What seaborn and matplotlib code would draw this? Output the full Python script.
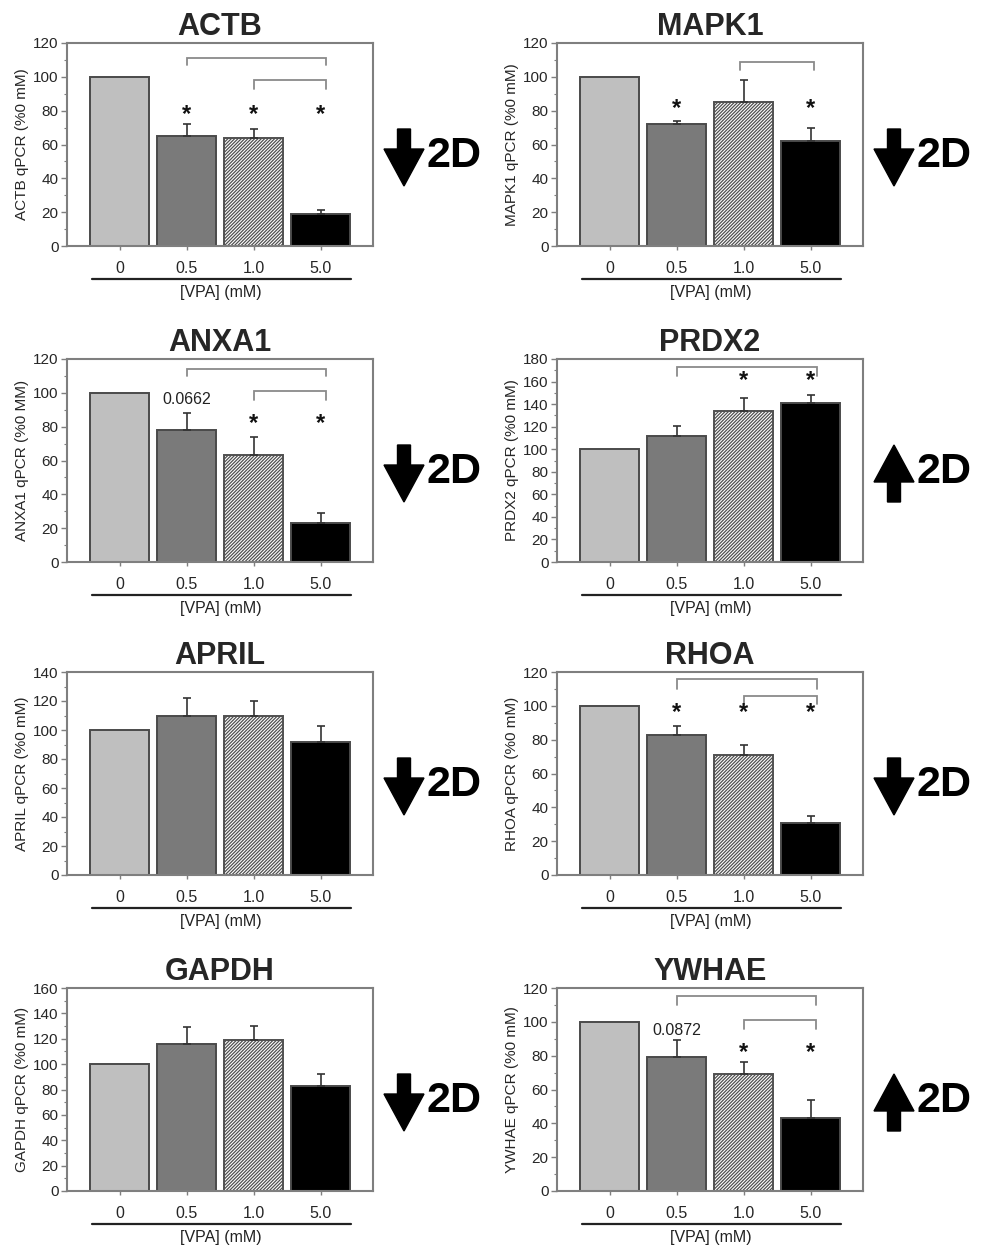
import numpy as np
import pandas as pd
import matplotlib
matplotlib.use("Agg")
import matplotlib.pyplot as plt
import matplotlib.transforms as mtransforms
from matplotlib.patches import FancyArrow
import seaborn as sns

# ---------------- data ----------------
doses = ["0", "0.5", "1.0", "5.0"]

actb_mean = [100, 65, 64, 19]
actb_err = [0, 7, 5, 2]
mapk1_mean = [100, 72, 85, 62]
mapk1_err = [0, 2, 13, 8]
anxa1_mean = [100, 78, 63, 23]
anxa1_err = [0, 10, 11, 6]
prdx2_mean = [100, 112, 134, 141]
prdx2_err = [0, 9, 11, 7]
april_mean = [100, 110, 110, 92]
april_err = [0, 12, 10, 11]
rhoa_mean = [100, 83, 71, 31]
rhoa_err = [0, 5, 6, 4]
gapdh_mean = [100, 116, 119, 83]
gapdh_err = [0, 13, 11, 9]
ywhae_mean = [100, 79, 69, 43]
ywhae_err = [0, 10, 7, 11]

genes = ["ACTB", "MAPK1", "ANXA1", "PRDX2", "APRIL", "RHOA", "GAPDH", "YWHAE"]
ylabels = ["ACTB qPCR (%0 mM)", "MAPK1 qPCR (%0 mM)", "ANXA1 qPCR (%0 MM)",
           "PRDX2 qPCR (%0 mM)", "APRIL qPCR (%0 mM)", "RHOA qPCR (%0 mM)",
           "GAPDH qPCR (%0 mM)", "YWHAE qPCR (%0 mM)"]
ymaxs = [120, 120, 120, 180, 140, 120, 160, 120]
directions = ["down", "down", "down", "up", "down", "down", "down", "up"]

# significance stars: (bar index, y)
actb_stars = [(1, 78), (2, 78), (3, 78)]
mapk1_stars = [(1, 81), (3, 81)]
anxa1_stars = [(2, 82), (3, 82)]
prdx2_stars = [(2, 161), (3, 161)]
april_stars = []
rhoa_stars = [(1, 96), (2, 96), (3, 96)]
gapdh_stars = []
ywhae_stars = [(2, 82), (3, 82)]

# brackets: (x1, x2, y, tip length)
actb_brackets = [(1, 3.08, 111, 4), (2, 3.08, 98, 5)]
mapk1_brackets = [(1.95, 3.05, 109, 5)]
anxa1_brackets = [(1, 3.08, 114, 4), (2, 3.08, 101, 5)]
prdx2_brackets = [(1, 3.1, 173, 8)]
april_brackets = []
rhoa_brackets = [(1, 3.1, 116, 6), (2, 3.1, 106, 5)]
gapdh_brackets = []
ywhae_brackets = [(1, 3.08, 115, 5), (2, 3.08, 101, 5)]

# p-value labels: (x, y, text)
anxa1_ptext = [(1, 96, "0.0662")]
ywhae_ptext = [(1, 95, "0.0872")]

means = [actb_mean, mapk1_mean, anxa1_mean, prdx2_mean, april_mean, rhoa_mean, gapdh_mean, ywhae_mean]
errs = [actb_err, mapk1_err, anxa1_err, prdx2_err, april_err, rhoa_err, gapdh_err, ywhae_err]
stars = [actb_stars, mapk1_stars, anxa1_stars, prdx2_stars, april_stars, rhoa_stars, gapdh_stars, ywhae_stars]
brackets = [actb_brackets, mapk1_brackets, anxa1_brackets, prdx2_brackets, april_brackets,
            rhoa_brackets, gapdh_brackets, ywhae_brackets]
ptexts = [[], [], anxa1_ptext, [], [], [], [], ywhae_ptext]

bar_colors = ["#bfbfbf", "#7a7a7a", "#ffffff", "#000000"]

# ---------------- style ----------------
sns.set_theme(style="white")
plt.rcParams["font.family"] = ["Liberation Sans", "DejaVu Sans"]
plt.rcParams["hatch.linewidth"] = 0.9

W, H = 984, 1253
fig = plt.figure(figsize=(W / 100, H / 100), dpi=100)
fig.patch.set_facecolor("white")
pix = mtransforms.Affine2D().scale(1 / W, 1 / H) + fig.transFigure

col_left = [67, 557]
ax_w = 306
row_top = [43, 359, 672, 988]
ax_h = 203

spine_c = "#7f7f7f"

for i, gene in enumerate(genes):
    r, c = divmod(i, 2)
    left = col_left[c]
    top = row_top[r]
    ax = fig.add_axes([left / W, (H - top - ax_h) / H, ax_w / W, ax_h / H])

    df = pd.DataFrame({"dose": doses, "value": means[i]})
    sns.barplot(data=df, x="dose", y="value", hue="dose", palette=bar_colors,
                legend=False, width=0.88, saturation=1, edgecolor="#4a4a4a",
                linewidth=1.4, ax=ax)
    hatched = ax.patches[2]
    hatched.set_hatch("//////////")
    hatched.set_facecolor("white")
    hatched.set_edgecolor("#505050")

    e = np.array(errs[i])
    m = np.array(means[i])
    idx = np.where(e > 0)[0]
    ax.errorbar(idx, m[idx], yerr=[np.zeros(len(idx)), e[idx]], fmt="none",
                ecolor="#333333", elinewidth=1.2, capsize=3, capthick=1.2, zorder=3)

    ymax = ymaxs[i]
    ax.set_ylim(0, ymax)
    ax.set_xlim(-0.79, 3.78)
    ax.set_yticks(np.arange(0, ymax + 1, 20))
    ax.set_yticks(np.arange(10, ymax, 20), minor=True)
    ax.tick_params(axis="y", which="major", direction="out", length=4, width=1,
                   color=spine_c, labelsize=11, pad=2, left=True)
    ax.tick_params(axis="y", which="minor", direction="out", length=2.5, width=0.8,
                   color=spine_c, left=True)
    ax.tick_params(axis="x", direction="out", length=3, width=1, color=spine_c,
                   labelsize=11.5, pad=8, bottom=True)
    for s in ax.spines.values():
        s.set_visible(True)
        s.set_color(spine_c)
        s.set_linewidth(1.5)
    ax.set_xlabel("")
    ax.set_ylabel(ylabels[i], fontsize=11, labelpad=3)
    ax.set_title(gene, fontsize=22, fontweight="bold", pad=6)

    # brackets
    for (x1, x2, y, tip) in brackets[i]:
        ax.plot([x1, x1, x2, x2], [y - tip, y, y, y - tip], color="#8a8a8a",
                lw=1.3, solid_joinstyle="miter", clip_on=False)
    for (x, y) in stars[i]:
        ax.text(x, y, "*", ha="center", va="center", fontsize=17, fontweight="bold",
                color="#111111")
    for (x, y, t) in ptexts[i]:
        ax.text(x, y, t, ha="center", va="center", fontsize=11.5, color="#222222")

    # underline + axis caption
    blend = mtransforms.blended_transform_factory(ax.transData, ax.transAxes)
    ax.plot([-0.42, 3.45], [-0.165, -0.165], transform=blend, color="#222222",
            lw=1.6, clip_on=False)
    ax.text(1.5, -0.228, "[VPA] (mM)", transform=blend, ha="center", va="center",
            fontsize=11.5, color="#222222")

    # arrow + "2D"
    right = left + ax_w
    cx = right + 31
    if directions[i] == "down":
        y0, dy = H - (top + 86), -57
    else:
        y0, dy = H - (top + 143), 57
    arr = FancyArrow(cx, y0, 0, dy, width=13, head_width=40, head_length=37,
                     length_includes_head=True, transform=pix, color="black")
    fig.add_artist(arr)
    fig.text(right + 54, H - (top + 113), "2D", transform=pix, ha="left",
             va="center", fontsize=31, fontweight="bold", color="black")

fig.savefig("out.png", dpi=100, facecolor="white")
